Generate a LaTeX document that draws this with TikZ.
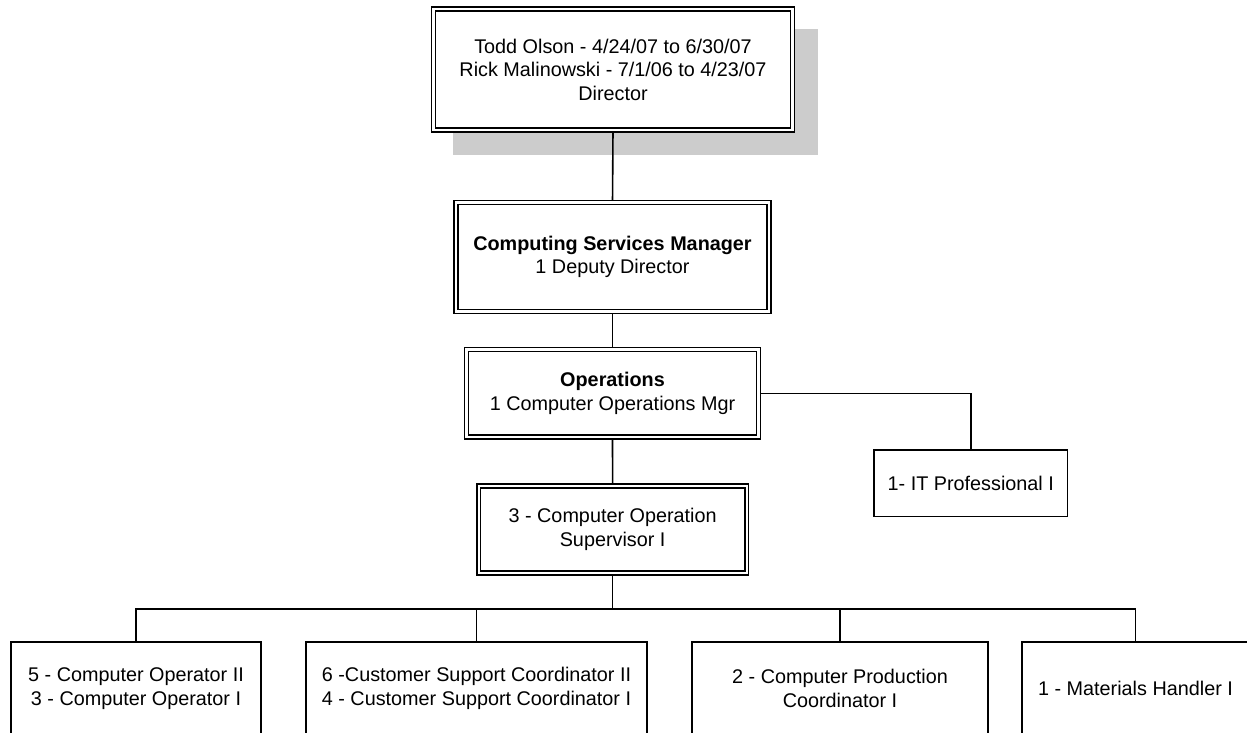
\documentclass[tikz,border=0pt]{standalone}
\usepackage{fontspec}
\setmainfont{Liberation Sans}
\usetikzlibrary{backgrounds}
\begin{document}
\begin{tikzpicture}[x=1pt,y=-1pt,
  every node/.style={font=\fontsize{19.8}{23.5}\selectfont, align=center,
    inner sep=0pt, outer sep=0pt},
  dbox/.style={draw, double, double distance=2.2pt, line width=1.75pt, fill=white},
  sbox/.style={draw, line width=1.6pt, fill=white},
  link/.style={line width=1.6pt},
  shade/.style={fill=black!20}]
\useasboundingbox (0,0) rectangle (1247,732);
\clip (0,0) rectangle (1247,732);

% management chain
\node[dbox, minimum width=359pt, minimum height=121pt] (dir) at (613,69.5)
  {Todd Olson - 4/24/07 to 6/30/07\\Rick Malinowski - 7/1/06 to 4/23/07\\Director};
\node[dbox, minimum width=313.6pt, minimum height=109pt] (mgr) at (612.5,257)
  {\textbf{Computing Services Manager}\\1 Deputy Director};
\node[dbox, minimum width=292pt, minimum height=87.7pt] (ops) at (612.5,393.3)
  {\textbf{Operations}\\1 Computer Operations Mgr};
\node[dbox, minimum width=268pt, minimum height=87pt] (sup) at (612.6,529.5)
  {3 - Computer Operation\\Supervisor I};

% side position
\node[sbox, minimum width=193.7pt, minimum height=66.7pt] (it) at (970.8,483.3)
  {1- IT Professional I};

% staff positions (boxes run past the lower edge)
\node[sbox, minimum width=250pt, minimum height=93pt] (opr) at (136,688.5)
  {5 - Computer Operator II\\3 - Computer Operator I};
\node[sbox, minimum width=341pt, minimum height=93pt] (csc) at (476.5,688.5)
  {6 -Customer Support Coordinator II\\4 - Customer Support Coordinator I};
\node[sbox, minimum width=296pt, minimum height=93pt] (cpc) at (840,688.5)
  {2 - Computer Production\\Coordinator I};
\node[sbox, minimum width=227pt, minimum height=93pt] (mat) at (1135.5,688.5)
  {1 - Materials Handler I};

\coordinate (bus) at (612.6,609);

\begin{scope}[on background layer]
  \fill[shade] ([shift={(19.5,20)}]dir.north west) rectangle ([shift={(25.5,25)}]dir.south east);
  \draw[link] (dir.south) -- (mgr.north);
  \draw[link] (mgr.south) -- (ops.north);
  \draw[link] (ops.south) -- (sup.north);
  \draw[link] (ops.east) -| (it.north);
  \draw[link] (sup.south) -- (bus);
  \draw[link] (opr.north) |- (bus);
  \draw[link] (csc.north) |- (bus);
  \draw[link] (cpc.north) |- (bus);
  \draw[link] (mat.north) |- (bus);
\end{scope}
\end{tikzpicture}
\end{document}
